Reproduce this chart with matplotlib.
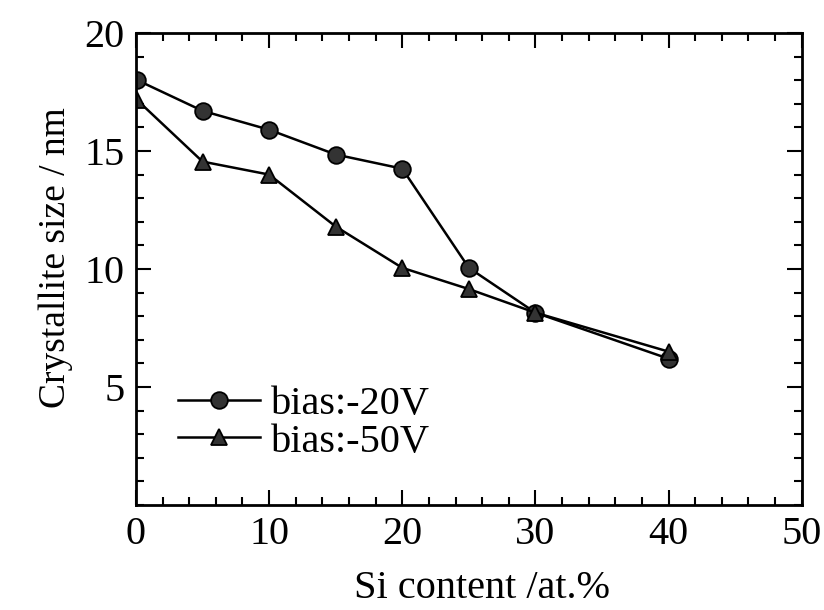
import matplotlib
matplotlib.use('Agg')
import matplotlib.pyplot as plt
from matplotlib.ticker import MultipleLocator

plt.rcParams['font.family'] = ['Liberation Serif', 'DejaVu Serif']

si_20 = [0.1, 5, 10, 15, 20, 25, 30, 40]
size_20 = [18.0, 16.7, 15.9, 14.85, 14.25, 10.05, 8.15, 6.2]
si_50 = [0.1, 5, 10, 15, 20, 25, 30, 40]
size_50 = [17.15, 14.55, 14.0, 11.8, 10.05, 9.15, 8.15, 6.5]

fig = plt.figure(figsize=(8.24, 6.1), dpi=100)
ax = fig.add_axes([0.165, 0.172, 0.808, 0.774])

ax.plot(si_20, size_20, '-o', color='black', lw=1.8, ms=12,
        mfc='#333333', mec='black', mew=1.3, label='bias:-20V')
ax.plot(si_50, size_50, '-^', color='black', lw=1.8, ms=12,
        mfc='#333333', mec='black', mew=1.3, label='bias:-50V')

ax.set_xlim(0, 50)
ax.set_ylim(0, 20)
ax.xaxis.set_major_locator(MultipleLocator(10))
ax.xaxis.set_minor_locator(MultipleLocator(2))
ax.yaxis.set_minor_locator(MultipleLocator(1))
ax.set_yticks([5, 10, 15, 20])

ax.tick_params(which='both', direction='in', top=True, right=True, width=1.5)
ax.tick_params(which='major', length=11, labelsize=29, pad=8)
ax.tick_params(which='minor', length=6)
for s in ax.spines.values():
    s.set_linewidth(2)

ax.set_xlabel('Si content /at.%', fontsize=29, labelpad=12)
ax.set_ylabel('Crystallite size / nm', fontsize=27, labelpad=8)
ax.xaxis.label.set_x(0.52)
ax.yaxis.label.set_y(0.524)

ax.legend(loc='center left', bbox_to_anchor=(0.063, 0.173), frameon=False,
          fontsize=29, handlelength=2.05, handletextpad=0.25,
          labelspacing=0.0, borderaxespad=0, borderpad=0)

fig.savefig('out.png', dpi=100)
